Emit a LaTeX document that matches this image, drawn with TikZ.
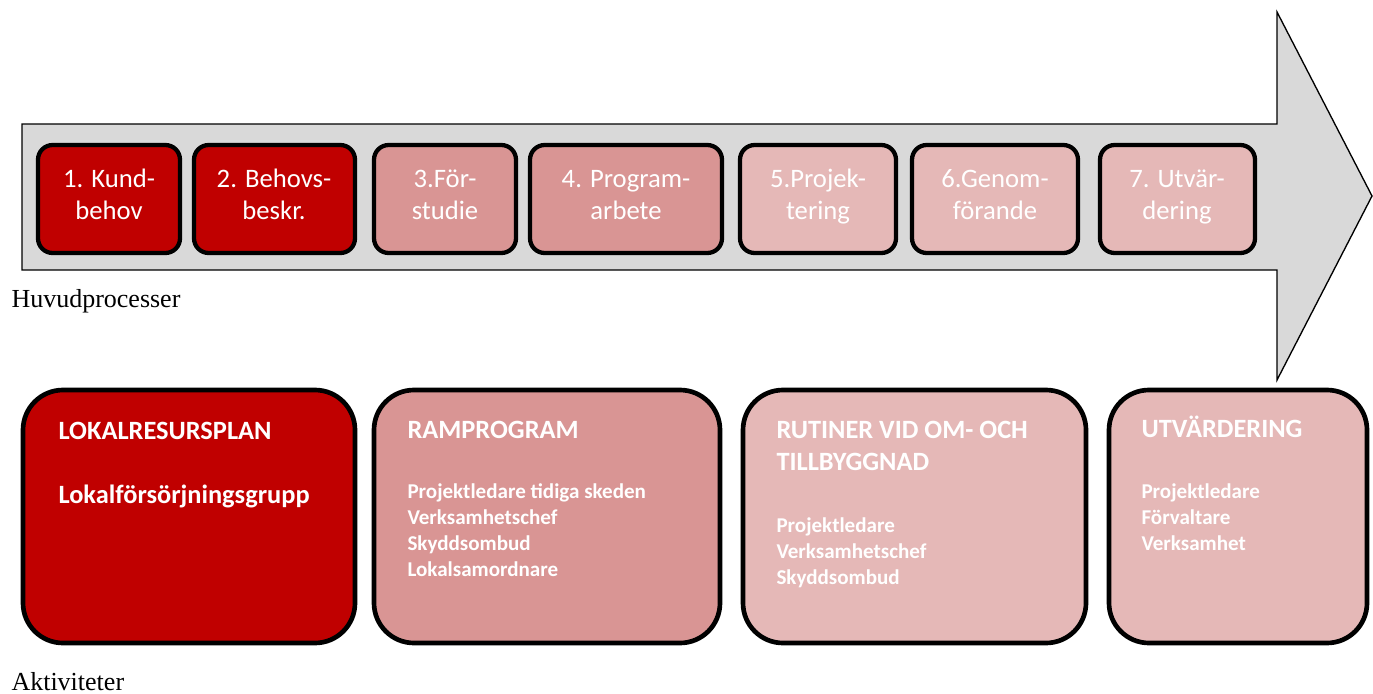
\documentclass[tikz,border=0pt]{standalone}
\usepackage{fontspec}
\setmainfont{Liberation Serif}
\newfontfamily\calib{Carlito}
\usepackage{tikz}
\definecolor{fasred}{RGB}{192,0,0}
\definecolor{fasmid}{RGB}{217,149,148}
\definecolor{faslight}{RGB}{229,184,183}
\definecolor{arrowgray}{RGB}{217,217,217}
\tikzset{every picture/.style={line width=0.75pt}}
\tikzset{
  fasbox/.style={draw=black, line width=3.2pt, rounded corners=11pt},
  aktbox/.style={draw=black, line width=3.5pt, rounded corners=30pt},
  fastext/.style={text=white, font=\calib\fontsize{20}{24}\selectfont, align=center, inner sep=0.75pt, anchor=base},
  akthead/.style={text=white, font=\calib\bfseries\fontsize{19.8}{24}\selectfont, align=left, inner sep=0.75pt, anchor=base west},
  aktlist/.style={text=white, font=\calib\bfseries\fontsize{15.8}{19.5}\selectfont, align=left, inner sep=0.75pt, anchor=base west},
  sidelabel/.style={font=\fontsize{19.5}{23}\selectfont, inner sep=0.75pt, anchor=base west}
}

\begin{document}
\begin{tikzpicture}[x=0.75pt,y=0.75pt,yscale=-1,xscale=1]
\useasboundingbox (0,0) rectangle (1373,693);
%big arrow
\draw [fill=arrowgray, line width=1pt]  (22,124) -- (1277,124) -- (1277,12) -- (1372,196) -- (1277,380) -- (1277,270) -- (22,270) -- cycle ;
%process steps
\draw [fasbox, fill=fasred]  (38,145) rectangle (180,253) ;
\draw [fasbox, fill=fasred]  (194,145) rectangle (355,253) ;
\draw [fasbox, fill=fasmid]  (374,145) rectangle (516,253) ;
\draw [fasbox, fill=fasmid]  (530,145) rectangle (722,253) ;
\draw [fasbox, fill=faslight]  (740,145) rectangle (896,253) ;
\draw [fasbox, fill=faslight]  (912,145) rectangle (1078,253) ;
\draw [fasbox, fill=faslight]  (1100,145) rectangle (1255,253) ;
\draw (109,219) node [fastext] (kund) {1. Kund-\\behov};
\draw (274,219) node [fastext] (behov) {2. Behovs-\\beskr.};
\draw (445,219) node [fastext] (forstudie) {3.För-\\studie};
\draw (626,219) node [fastext] (program) {4. Program-\\arbete};
\draw (818,219) node [fastext] (projekt) {5.Projek-\\tering};
\draw (995,219) node [fastext] (genomf) {6.Genom-\\förande};
\draw (1177,219) node [fastext] (utvard) {7. Utvär-\\dering};
\draw (10,307) node [sidelabel] (huvud) {Huvudprocesser};
%activities
\draw [aktbox, fill=fasred]  (23,390) rectangle (355,643) ;
\draw [aktbox, fill=fasmid]  (374,390) rectangle (720,643) ;
\draw [aktbox, fill=faslight]  (743,390) rectangle (1086,643) ;
\draw [aktbox, fill=faslight]  (1109,390) rectangle (1367,643) ;
\draw (57,503) node [akthead] (plan) {LOKALRESURSPLAN\\[24pt]Lokalförsörjningsgrupp};
\draw (406,438) node [akthead] (ramprog) {RAMPROGRAM};
\draw (406,576) node [aktlist] (ramlist) {Projektledare tidiga skeden\\Verksamhetschef\\Skyddsombud\\Lokalsamordnare};
\draw (775,470) node [akthead] (rutiner) {RUTINER VID OM- OCH\\TILLBYGGNAD};
\draw (775,584) node [aktlist] (rutlist) {Projektledare\\Verksamhetschef\\Skyddsombud};
\draw (1140,437) node [akthead] (utvhead) {UTVÄRDERING};
\draw (1140,550) node [aktlist] (utvlist) {Projektledare\\Förvaltare\\Verksamhet};
\draw (10,690) node [sidelabel] (aktiv) {Aktiviteter};
\end{tikzpicture}
\end{document}
